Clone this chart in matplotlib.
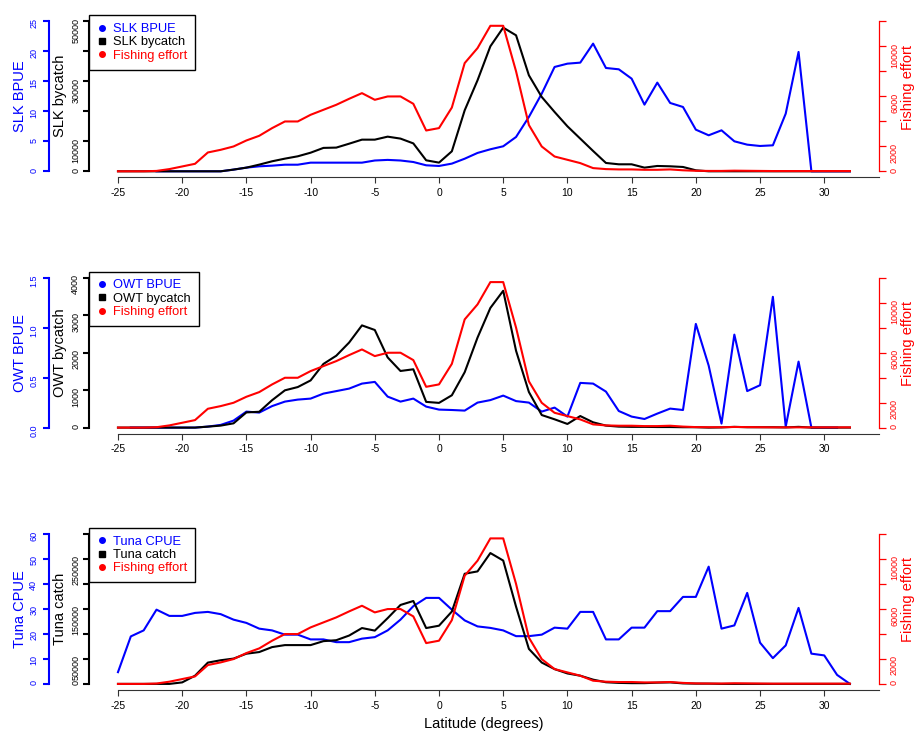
import numpy as np
import matplotlib
matplotlib.use('Agg')
import matplotlib.pyplot as plt
from matplotlib.lines import Line2D

plt.rcParams['font.family'] = ['Liberation Sans', 'DejaVu Sans']
plt.rcParams['axes.unicode_minus'] = False

nan = np.nan

# latitude (degrees), one value per degree
lat = np.arange(-25, 33)

# fishing effort, same series in all three panels
effort = [0, 0, 0, 30, 176, 387, 600, 1507, 1720, 1987,
          2467, 2840, 3453, 3987, 3987, 4520, 4920, 5320, 5800, 6253,
          5720, 5987, 5990, 5400, 3264, 3456, 5100, 8656, 9856, 11640,
          11640, 8000, 3700, 1984, 1184, 920, 656, 256, 176, 150,
          150, 120, 120, 150, 80, 40, 30, 30, 50, 40,
          30, 20, 20, 20, 20, 20, 20, 20]

slk_bpue = [nan, nan, nan, 0, 0, 0, 0, 0, 0, 0.28,
            0.61, 0.83, 0.94, 1.1, 1.1, 1.44, 1.44, 1.44, 1.44, 1.44,
            1.8, 1.9, 1.8, 1.55, 1.0, 0.89, 1.28, 2.1, 3.06, 3.67,
            4.17, 5.72, 9.06, 12.94, 17.39, 17.94, 18.11, 21.28, 17.22, 17.0,
            15.44, 11.11, 14.78, 11.39, 10.72, 6.94, 6.0, 6.83, 5.0, 4.44,
            4.22, 4.33, 9.61, 19.89, 0, 0, 0, 0]
slk_bycatch = [0, 0, 0, 0, 0, 0, 0, 0, 0, 567,
               1222, 2222, 3333, 4222, 5000, 6200, 7800, 7900, 9200, 10550,
               10550, 11550, 10900, 9300, 3667, 2889, 6667, 20333, 30333, 41667,
               47889, 45333, 32000, 24778, 19778, 15000, 10889, 6778, 2778, 2333,
               2333, 1222, 1778, 1667, 1444, 333, 0, 0, 0, 0,
               0, 0, 0, 0, 0, 0, 0, 0]

owt_bpue = [nan, 0, 0, 0, 0, 0, 0, 0.01, 0.027, 0.07,
            0.16, 0.15, 0.215, 0.26, 0.28, 0.29, 0.34, 0.365, 0.39, 0.44,
            0.457, 0.31, 0.26, 0.29, 0.21, 0.18, 0.176, 0.17, 0.25, 0.275,
            0.32, 0.265, 0.25, 0.16, 0.2, 0.11, 0.447, 0.44, 0.36, 0.166,
            0.11, 0.086, 0.14, 0.19, 0.176, 1.037, 0.62, 0.04, 0.93, 0.365,
            0.424, 1.308, 0.01, 0.66, 0, 0, 0, nan]
owt_bycatch = [0, 0, 0, 0, 0, 0, 0, 26, 53, 114,
               405, 422, 730, 994, 1081, 1258, 1698, 1917, 2268, 2726,
               2603, 1872, 1510, 1555, 686, 659, 862, 1477, 2400, 3191,
               3649, 2049, 949, 335, 221, 97, 308, 141, 53, 26,
               20, 20, 15, 15, 10, 10, 0, 5, 20, 10,
               10, 10, 5, 20, 0, 0, 0, 0]

tuna_cpue = [4.7, 19, 21.4, 29.7, 27.2, 27.2, 28.4, 28.8, 27.9, 25.7,
             24.4, 22.1, 21.4, 19.7, 19.7, 17.8, 17.8, 16.7, 16.7, 18.1,
             18.7, 21.4, 25.7, 31.1, 34.4, 34.4, 29.7, 25.4, 23.0, 22.4,
             21.4, 19.1, 19.1, 19.7, 22.5, 22.1, 28.8, 28.8, 17.8, 17.8,
             22.5, 22.5, 29.1, 29.1, 34.8, 34.8, 46.9, 22.1, 23.4, 36.4,
             16.5, 10.3, 15.4, 30.4, 12.1, 11.4, 3.6, 0]
tuna_catch = [0, 0, 0, 0, 0, 3000, 16400, 42600, 47300, 50600,
              60400, 63700, 73600, 77600, 77600, 77600, 85500, 87400, 96700, 111700,
              106600, 131500, 157900, 165800, 111700, 116400, 144700, 220300, 225000, 261700,
              246700, 154500, 70000, 42700, 29600, 20900, 16400, 8500, 3300, 2000,
              1500, 1500, 2500, 3000, 1000, 500, 500, 0, 0, 0,
              0, 0, 0, 0, 0, 0, 0, 0]

# axis ticks and labels
x_ticks = [-25, -20, -15, -10, -5, 0, 5, 10, 15, 20, 25, 30]
effort_ticks = [0, 2000, 4000, 6000, 8000, 10000, 12000]
effort_labels = ['0', '2000', '', '6000', '', '10000', '']

slk_ticks = [0, 5, 10, 15, 20, 25]
slk_catch_ticks = [0, 10000, 20000, 30000, 40000, 50000]
slk_catch_labels = ['0', '10000', '', '30000', '', '50000']
owt_ticks = [0.0, 0.5, 1.0, 1.5]
owt_tick_labels = ['0.0', '0.5', '1.0', '1.5']
owt_catch_ticks = [0, 1000, 2000, 3000, 4000]
tuna_ticks = [0, 10, 20, 30, 40, 50, 60]
tuna_catch_ticks = [0, 50000, 100000, 150000, 200000, 250000, 300000]
tuna_catch_labels = ['0', '50000', '', '150000', '', '250000', '']

W, H = 914, 734
X0, X1 = 88.7, 879.2


def draw_panel(fig, row, cpue, catch, cpue_name, catch_name,
               cpue_ticks, cpue_labels, catch_ticks, catch_labels):
    zero = 171.3 + 256.3 * row
    rect = [X0 / W, 1 - (zero + 6) / H, (X1 - X0) / W, 162 / H]
    ax_b = fig.add_axes(rect)
    ax_k = ax_b.twinx()
    ax_r = ax_b.twinx()

    ax_b.plot(lat, cpue, color='blue', lw=1.5)
    ax_k.plot(lat, catch, color='black', lw=1.5)
    ax_r.plot(lat, effort, color='red', lw=1.5)

    ax_b.set_xlim(-27.28, 34.28)
    for a, t in ((ax_b, cpue_ticks[-1]), (ax_k, catch_ticks[-1]),
                 (ax_r, effort_ticks[-1])):
        a.set_ylim(-0.04 * t, 1.04 * t)
        for s in a.spines.values():
            s.set_visible(False)

    # x axis
    ax_b.spines['bottom'].set_visible(True)
    ax_b.spines['bottom'].set_bounds(-25, 34.28)
    ax_b.spines['bottom'].set_color('#333333')
    ax_b.set_xticks(x_ticks, [str(v) for v in x_ticks])
    ax_b.tick_params(axis='x', length=4.3, width=0.8, color='#333333',
                     labelsize=7.5, pad=3.5)

    # blue axis, shifted out to the left
    sp = ax_b.spines['left']
    sp.set_visible(True)
    sp.set_position(('outward', 28.8))
    sp.set_bounds(0, cpue_ticks[-1])
    sp.set_color('blue')
    sp.set_linewidth(1.5)
    ax_b.set_yticks(cpue_ticks, cpue_labels)
    ax_b.tick_params(axis='y', colors='blue', labelsize=6.5, length=4.3,
                     width=1.5, labelrotation=90, pad=3.2)

    # black axis on the plot edge
    ax_k.yaxis.tick_left()
    sp = ax_k.spines['left']
    sp.set_visible(True)
    sp.set_bounds(0, catch_ticks[-1])
    sp.set_linewidth(1.5)
    ax_k.set_yticks(catch_ticks, catch_labels)
    ax_k.tick_params(axis='y', colors='black', labelsize=6.5, length=4.3,
                     width=1.5, labelrotation=90, pad=1.8)

    # red axis on the right
    sp = ax_r.spines['right']
    sp.set_visible(True)
    sp.set_bounds(0, effort_ticks[-1])
    sp.set_color('red')
    sp.set_linewidth(0.9)
    ax_r.set_yticks(effort_ticks, effort_labels)
    ax_r.tick_params(axis='y', colors='red', labelsize=6.5, length=4.8,
                     width=0.9, labelrotation=90, pad=3)

    fig.text(20 / W, 1 - (zero - 75) / H, cpue_name, color='blue',
             fontsize=10.5, rotation=90, ha='center', va='center')
    fig.text(60 / W, 1 - (zero - 75) / H, catch_name, color='black',
             fontsize=10.5, rotation=90, ha='center', va='center')
    fig.text(908 / W, 1 - (zero - 84) / H, 'Fishing effort', color='red',
             fontsize=10.5, rotation=90, ha='center', va='center')

    handles = [Line2D([], [], ls='none', marker='o', ms=4, color='blue'),
               Line2D([], [], ls='none', marker='s', ms=4.5, color='black'),
               Line2D([], [], ls='none', marker='o', ms=4, color='red')]
    leg = ax_r.legend(handles, [cpue_name, catch_name, 'Fishing effort'],
                      loc='upper left', bbox_to_anchor=(0, 1),
                      borderaxespad=0, fontsize=9.3,
                      labelcolor=['blue', 'black', 'red'],
                      fancybox=False, edgecolor='black', framealpha=1,
                      handlelength=0.8, handletextpad=0.5,
                      labelspacing=0.1, borderpad=0.6)
    leg.get_frame().set_linewidth(1.0)
    return ax_b


fig = plt.figure(figsize=(W / 100, H / 100), dpi=100)
draw_panel(fig, 0, slk_bpue, slk_bycatch, 'SLK BPUE', 'SLK bycatch',
           slk_ticks, [str(v) for v in slk_ticks],
           slk_catch_ticks, slk_catch_labels)
draw_panel(fig, 1, owt_bpue, owt_bycatch, 'OWT BPUE', 'OWT bycatch',
           owt_ticks, owt_tick_labels,
           owt_catch_ticks, [str(v) for v in owt_catch_ticks])
draw_panel(fig, 2, tuna_cpue, tuna_catch, 'Tuna CPUE', 'Tuna catch',
           tuna_ticks, [str(v) for v in tuna_ticks],
           tuna_catch_ticks, tuna_catch_labels)
fig.text(484 / W, 1 - 724 / H, 'Latitude (degrees)', fontsize=10.5,
         ha='center', va='center')

fig.savefig('out.png', dpi=100)
